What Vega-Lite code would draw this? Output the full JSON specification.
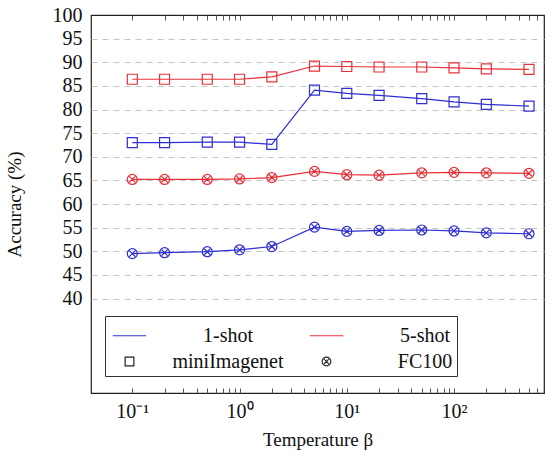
{
  "$schema": "https://vega.github.io/schema/vega-lite/v6.json",
  "width": 453,
  "height": 378,
  "autosize": {"type": "none"},
  "padding": {"left": 91, "top": 15, "right": 6, "bottom": 67},
  "background": "white",
  "data": {
    "values": [
      {"t": 0.1, "acc": 73.0, "shot": "1-shot", "dataset": "miniImagenet"},
      {"t": 0.2, "acc": 73.0, "shot": "1-shot", "dataset": "miniImagenet"},
      {"t": 0.5, "acc": 73.1, "shot": "1-shot", "dataset": "miniImagenet"},
      {"t": 1, "acc": 73.1, "shot": "1-shot", "dataset": "miniImagenet"},
      {"t": 2, "acc": 72.6, "shot": "1-shot", "dataset": "miniImagenet"},
      {"t": 5, "acc": 84.1, "shot": "1-shot", "dataset": "miniImagenet"},
      {"t": 10, "acc": 83.4, "shot": "1-shot", "dataset": "miniImagenet"},
      {"t": 20, "acc": 83.0, "shot": "1-shot", "dataset": "miniImagenet"},
      {"t": 50, "acc": 82.3, "shot": "1-shot", "dataset": "miniImagenet"},
      {"t": 100, "acc": 81.6, "shot": "1-shot", "dataset": "miniImagenet"},
      {"t": 200, "acc": 81.1, "shot": "1-shot", "dataset": "miniImagenet"},
      {"t": 500, "acc": 80.7, "shot": "1-shot", "dataset": "miniImagenet"},
      {"t": 0.1, "acc": 86.4, "shot": "5-shot", "dataset": "miniImagenet"},
      {"t": 0.2, "acc": 86.4, "shot": "5-shot", "dataset": "miniImagenet"},
      {"t": 0.5, "acc": 86.4, "shot": "5-shot", "dataset": "miniImagenet"},
      {"t": 1, "acc": 86.4, "shot": "5-shot", "dataset": "miniImagenet"},
      {"t": 2, "acc": 86.9, "shot": "5-shot", "dataset": "miniImagenet"},
      {"t": 5, "acc": 89.2, "shot": "5-shot", "dataset": "miniImagenet"},
      {"t": 10, "acc": 89.1, "shot": "5-shot", "dataset": "miniImagenet"},
      {"t": 20, "acc": 89.0, "shot": "5-shot", "dataset": "miniImagenet"},
      {"t": 50, "acc": 89.0, "shot": "5-shot", "dataset": "miniImagenet"},
      {"t": 100, "acc": 88.8, "shot": "5-shot", "dataset": "miniImagenet"},
      {"t": 200, "acc": 88.6, "shot": "5-shot", "dataset": "miniImagenet"},
      {"t": 500, "acc": 88.5, "shot": "5-shot", "dataset": "miniImagenet"},
      {"t": 0.1, "acc": 49.5, "shot": "1-shot", "dataset": "FC100"},
      {"t": 0.2, "acc": 49.7, "shot": "1-shot", "dataset": "FC100"},
      {"t": 0.5, "acc": 49.9, "shot": "1-shot", "dataset": "FC100"},
      {"t": 1, "acc": 50.3, "shot": "1-shot", "dataset": "FC100"},
      {"t": 2, "acc": 51.0, "shot": "1-shot", "dataset": "FC100"},
      {"t": 5, "acc": 55.1, "shot": "1-shot", "dataset": "FC100"},
      {"t": 10, "acc": 54.2, "shot": "1-shot", "dataset": "FC100"},
      {"t": 20, "acc": 54.4, "shot": "1-shot", "dataset": "FC100"},
      {"t": 50, "acc": 54.5, "shot": "1-shot", "dataset": "FC100"},
      {"t": 100, "acc": 54.3, "shot": "1-shot", "dataset": "FC100"},
      {"t": 200, "acc": 53.9, "shot": "1-shot", "dataset": "FC100"},
      {"t": 500, "acc": 53.7, "shot": "1-shot", "dataset": "FC100"},
      {"t": 0.1, "acc": 65.2, "shot": "5-shot", "dataset": "FC100"},
      {"t": 0.2, "acc": 65.2, "shot": "5-shot", "dataset": "FC100"},
      {"t": 0.5, "acc": 65.2, "shot": "5-shot", "dataset": "FC100"},
      {"t": 1, "acc": 65.3, "shot": "5-shot", "dataset": "FC100"},
      {"t": 2, "acc": 65.6, "shot": "5-shot", "dataset": "FC100"},
      {"t": 5, "acc": 66.9, "shot": "5-shot", "dataset": "FC100"},
      {"t": 10, "acc": 66.2, "shot": "5-shot", "dataset": "FC100"},
      {"t": 20, "acc": 66.1, "shot": "5-shot", "dataset": "FC100"},
      {"t": 50, "acc": 66.6, "shot": "5-shot", "dataset": "FC100"},
      {"t": 100, "acc": 66.7, "shot": "5-shot", "dataset": "FC100"},
      {"t": 200, "acc": 66.6, "shot": "5-shot", "dataset": "FC100"},
      {"t": 500, "acc": 66.5, "shot": "5-shot", "dataset": "FC100"}
    ]
  },
  "encoding": {
    "y": {
      "field": "acc",
      "type": "quantitative",
      "scale": {"domain": [20, 100], "nice": false, "zero": false},
      "axis": {
        "orient": "left",
        "title": "Accuracy (%)",
        "values": [40, 45, 50, 55, 60, 65, 70, 75, 80, 85, 90, 95, 100],
        "grid": false,
        "domain": false,
        "ticks": false,
        "labelFont": "Liberation Serif",
        "labelFontSize": 20,
        "labelColor": "#111",
        "labelPadding": 9,
        "titleFont": "Liberation Serif",
        "titleFontSize": 19,
        "titleFontWeight": "normal",
        "titleColor": "#111",
        "titlePadding": 28
      }
    }
  },
  "layer": [
    {
      "mark": {"type": "line", "strokeWidth": 1.2},
      "encoding": {
        "x": {
          "field": "t",
          "type": "quantitative",
          "scale": {"type": "log", "domain": [0.0412, 690], "nice": false},
          "axis": {
            "orient": "bottom",
            "title": "Temperature β",
            "values": [0.1, 0.2, 0.3, 0.4, 0.5, 0.6, 0.7, 0.8, 0.9, 1, 2, 3, 4, 5, 6, 7, 8, 9, 10, 20, 30, 40, 50, 60, 70, 80, 90, 100, 200, 300, 400, 500, 600],
            "labelExpr": "datum.value == 0.1 ? '10⁻¹' : datum.value == 1 ? '10⁰' : datum.value == 10 ? '10¹' : datum.value == 100 ? '10²' : ''",
            "grid": false,
            "domain": false,
            "ticks": true,
            "offset": -5,
            "tickSize": 5,
            "tickColor": "#555",
            "tickWidth": 1,
            "labelFont": "Liberation Serif",
            "labelFontSize": 20,
            "labelColor": "#111",
            "labelPadding": 8,
            "labelOverlap": false,
            "titleFont": "Liberation Serif",
            "titleFontSize": 19,
            "titleFontWeight": "normal",
            "titleColor": "#111",
            "titlePadding": 9
          }
        },
        "color": {
          "field": "shot",
          "type": "nominal",
          "scale": {"domain": ["1-shot", "5-shot", "miniImagenet", "FC100"], "range": ["#2e2ed2", "#e8303a", "#222222", "#222222"]},
          "legend": {"title": null}
        },
        "detail": {"field": "dataset", "type": "nominal"}
      }
    },
    {
      "mark": {"type": "point", "filled": false, "strokeWidth": 1.2, "size": 1111, "opacity": 1},
      "encoding": {
        "x": {
          "field": "t",
          "type": "quantitative",
          "scale": {"type": "log", "domain": [0.0412, 690], "nice": false},
          "axis": {
            "orient": "top",
            "title": null,
            "values": [0.1, 0.2, 0.3, 0.4, 0.5, 0.6, 0.7, 0.8, 0.9, 1, 2, 3, 4, 5, 6, 7, 8, 9, 10, 20, 30, 40, 50, 60, 70, 80, 90, 100, 200, 300, 400, 500, 600],
            "labels": false,
            "grid": false,
            "domain": false,
            "ticks": true,
            "offset": -5,
            "tickSize": 5,
            "tickColor": "#555",
            "tickWidth": 1
          }
        },
        "y": {
          "field": "acc",
          "type": "quantitative",
          "axis": {
            "orient": "left",
            "title": null,
            "values": [40, 45, 50, 55, 60, 65, 70, 75, 80, 85, 90, 95],
            "labels": false,
            "ticks": false,
            "domain": false,
            "grid": true,
            "gridDash": [6, 5],
            "gridColor": "#c4c4c4",
            "gridWidth": 1.2
          }
        },
        "color": {"field": "shot", "type": "nominal", "legend": {"title": null}},
        "shape": {
          "field": "dataset",
          "type": "nominal",
          "scale": {
            "domain": ["1-shot", "5-shot", "miniImagenet", "FC100"],
            "range": [
              "M -1.15 0 L 1.15 0",
              "M -1.15 0 L 1.15 0",
              "M -0.3 -0.3 L 0.3 -0.3 L 0.3 0.3 L -0.3 0.3 Z",
              "M -0.3 0 A 0.3 0.3 0 1 0 0.3 0 A 0.3 0.3 0 1 0 -0.3 0 M -0.18 -0.18 L 0.18 0.18 M -0.18 0.18 L 0.18 -0.18"
            ]
          },
          "legend": {"title": null}
        }
      }
    }
  ],
  "resolve": {"axis": {"x": "independent", "y": "independent"}},
  "config": {
    "view": {"stroke": "#222", "strokeWidth": 1.2},
    "legend": {
      "orient": "none",
      "legendX": 14,
      "legendY": 301,
      "direction": "horizontal",
      "columns": 2,
      "columnPadding": 22,
      "rowPadding": 0,
      "padding": 4,
      "strokeColor": "#333",
      "symbolSize": 841,
      "symbolOffset": 5,
      "symbolStrokeWidth": 1.2,
      "labelFont": "Liberation Serif",
      "labelFontSize": 20,
      "labelColor": "#111",
      "labelAlign": "center",
      "labelOffset": 83,
      "labelLimit": 300
    }
  }
}
